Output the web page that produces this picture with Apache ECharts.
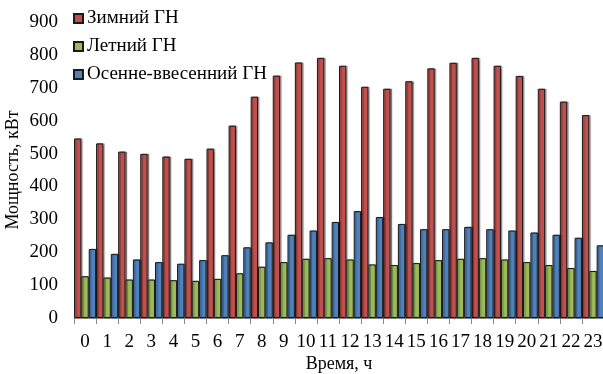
<!DOCTYPE html>
<html>
<head>
<meta charset="utf-8">
<script src="https://cdn.jsdelivr.net/npm/echarts@6/dist/echarts.min.js"></script>
<style>
html,body{margin:0;padding:0;background:#fff;}
#chart{width:603px;height:374px;}
</style>
</head>
<body>
<div id="chart"></div>
<script>
var hours = ['0','1','2','3','4','5','6','7','8','9','10','11','12','13','14','15','16','17','18','19','20','21','22','23'];
var winter = [546,531,506,499,491,484,515,585,673,737,777,791,767,703,697,720,759,776,791,767,736,697,658,617];
var summer = [127,123,117,117,115,113,119,136,156,170,180,182,178,163,161,167,176,180,182,178,170,161,152,143];
var autumnSpring = [210,195,178,170,165,176,191,215,230,253,266,292,325,307,286,270,270,277,270,266,260,253,244,221];
var yTicks = [0,100,200,300,400,500,600,700,800,900];

var FONT = '"Liberation Serif", "Times New Roman", serif';
var chart = echarts.init(document.getElementById('chart'), null, {renderer:'canvas'});
function barStyle(c){
  return {color:c, borderColor:'#1a1a1a', borderWidth:1,
          shadowColor:'rgba(0,0,0,0.35)', shadowOffsetX:1.5, shadowOffsetY:0, shadowBlur:1};
}
chart.setOption({
  animation:false,
  textStyle:{fontFamily:FONT},
  legend:{
    left:68, top:4, orient:'vertical', itemWidth:9, itemHeight:9, itemGap:9,
    icon:'rect',
    textStyle:{fontFamily:FONT, fontSize:19, color:'#000', padding:[0,0,0,-1]},
    data:['Зимний ГН','Летний ГН','Осенне-ввесенний ГН']
  },
  grid:{left:74, right:-1, top:22, bottom:56, containLabel:false, outerBoundsMode:'none'},
  xAxis:{
    type:'category', data:hours,
    name:'Время, ч', nameLocation:'middle', nameGap:37, nameMoveOverlap:false,
    nameTextStyle:{fontFamily:FONT, fontSize:18, color:'#000'},
    axisLine:{lineStyle:{color:'#888', width:1}},
    axisTick:{show:true, length:6, lineStyle:{color:'#888'}},
    axisLabel:{fontFamily:FONT, fontSize:19, color:'#000', margin:15, interval:0}
  },
  yAxis:{
    type:'value', min:0, max:900, interval:100,
    name:'Мощность, кВт', nameLocation:'middle', nameGap:52, nameMoveOverlap:false,
    nameTextStyle:{fontFamily:FONT, fontSize:18, color:'#000'},
    axisLine:{show:false}, axisTick:{show:false}, splitLine:{show:false},
    axisLabel:{fontFamily:FONT, fontSize:19, color:'#000', margin:16}
  },
  series:[
    {name:'Зимний ГН', type:'bar', data:winter, barGap:'0%', barCategoryGap:'0%', itemStyle:barStyle('#C0504D')},
    {name:'Летний ГН', type:'bar', data:summer, barGap:'0%', barCategoryGap:'0%', itemStyle:barStyle('#9BBB59')},
    {name:'Осенне-ввесенний ГН', type:'bar', data:autumnSpring, barGap:'0%', barCategoryGap:'0%', itemStyle:barStyle('#4F81BD')}
  ]
});
</script>
</body>
</html>
